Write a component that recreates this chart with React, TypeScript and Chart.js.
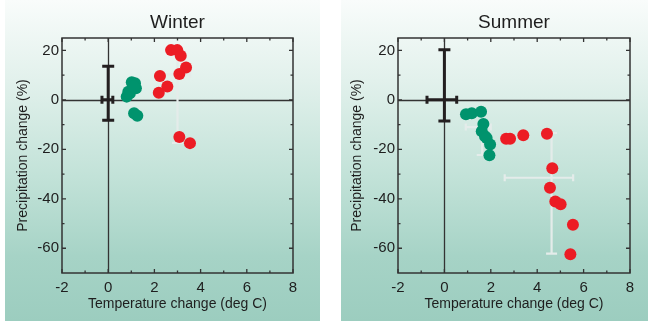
import React, { useEffect, useRef } from "react";
import { Chart, registerables } from "chart.js";
Chart.register(...registerables);

// ---- tick values ----
const xMajorTicks = [-2, 0, 2, 4, 6, 8];
const xMinorTicks = [-1, 1, 3, 5, 7];
const yMajorTicks = [-60, -40, -20, 0, 20];
const yMinorTicks = [-50, -30, -10, 10];

// ---- Winter ----
const winterGreenTemp = [0.8, 0.87, 0.94, 1.02, 1.16, 1.2, 1.1, 1.12, 1.26];
const winterGreenPrecip = [1.3, 3.3, 2.7, 7.1, 6.7, 4.7, 5.5, -5.4, -6.4];
const winterRedTemp = [2.72, 2.99, 3.14, 3.37, 3.08, 2.24, 2.56, 2.19, 3.08, 3.54];
const winterRedPrecip = [20.1, 20.1, 17.8, 13.1, 10.4, 9.6, 5.4, 2.9, -15.0, -17.5];
// [x, y, xLow, xHigh, yLow, yHigh]
const winterControlBar = [0, 0, -0.27, 0.2, -8.3, 13.6];
const winterRedBar = [3.0, 10.3, 2.1, 3.55, -17.4, 19];

// ---- Summer ----
const summerGreenTemp = [0.93, 1.18, 1.58, 1.68, 1.61, 1.75, 1.82, 1.97, 1.94];
const summerGreenPrecip = [-5.8, -5.4, -4.8, -9.8, -12.7, -14.7, -15.4, -18.1, -22.4];
const summerRedTemp = [2.66, 2.83, 3.4, 4.42, 4.65, 4.55, 4.78, 5.01, 5.54, 5.43];
const summerRedPrecip = [-15.7, -15.7, -14.3, -13.7, -27.7, -35.5, -41.1, -42.2, -50.5, -62.4];
const summerControlBar = [0, 0, -0.75, 0.53, -8.6, 20.3];
const summerGreenBar = [1.63, -11, 0.92, 2.0, -22.3, -5];
const summerRedBar = [4.62, -31.5, 2.6, 5.55, -62.2, -13.4];

const FONT = "'Liberation Sans', Arial, Helvetica, sans-serif";
const GREEN = "#00936d";
const RED = "#ec1c24";
const AXIS = "#333333";

function pts(xs: number[], ys: number[]) {
  return xs.map((x, i) => ({ x, y: ys[i] }));
}

function drawBar(ctx: CanvasRenderingContext2D, xs: any, ys: any, b: number[], color: string, lw: number, capV: number, capH: number) {
  const [x, y, xl, xh, yl, yh] = b;
  const px = xs.getPixelForValue(x);
  const py = ys.getPixelForValue(y);
  const pxl = xs.getPixelForValue(xl);
  const pxh = xs.getPixelForValue(xh);
  const pyl = ys.getPixelForValue(yl);
  const pyh = ys.getPixelForValue(yh);
  ctx.save();
  ctx.strokeStyle = color;
  ctx.lineWidth = lw;
  ctx.lineCap = "butt";
  ctx.beginPath();
  ctx.moveTo(px, pyl); ctx.lineTo(px, pyh);
  ctx.moveTo(px - capV, pyl); ctx.lineTo(px + capV, pyl);
  ctx.moveTo(px - capV, pyh); ctx.lineTo(px + capV, pyh);
  ctx.moveTo(pxl, py); ctx.lineTo(pxh, py);
  ctx.moveTo(pxl, py - capH); ctx.lineTo(pxl, py + capH);
  ctx.moveTo(pxh, py - capH); ctx.lineTo(pxh, py + capH);
  ctx.stroke();
  ctx.restore();
}

function makePlugin(title: string, grayBars: number[][], controlBar: number[]) {
  return {
    id: "decor" + title,
    beforeDatasetsDraw(chart: any) {
      const { ctx, chartArea: ca, scales } = chart;
      const xs = scales.x, ys = scales.y;
      ctx.save();
      // zero lines
      ctx.strokeStyle = AXIS;
      ctx.lineWidth = 1.3;
      ctx.beginPath();
      const x0 = Math.round(xs.getPixelForValue(0)) + 0.5;
      const y0 = Math.round(ys.getPixelForValue(0)) + 0.5;
      ctx.moveTo(x0, ca.top); ctx.lineTo(x0, ca.bottom);
      ctx.moveTo(ca.left, y0); ctx.lineTo(ca.right, y0);
      ctx.stroke();
      // frame
      ctx.lineWidth = 1.5;
      ctx.strokeRect(ca.left, ca.top, ca.right - ca.left, ca.bottom - ca.top);
      // ticks
      ctx.lineWidth = 1.3;
      ctx.beginPath();
      const tick = (vals: number[], len: number) => {
        vals.forEach((v) => {
          const p = xs.getPixelForValue(v);
          ctx.moveTo(p, ca.bottom); ctx.lineTo(p, ca.bottom - len);
          ctx.moveTo(p, ca.top); ctx.lineTo(p, ca.top + len);
        });
      };
      const ticky = (vals: number[], len: number) => {
        vals.forEach((v) => {
          const p = ys.getPixelForValue(v);
          ctx.moveTo(ca.left, p); ctx.lineTo(ca.left + len, p);
          ctx.moveTo(ca.right, p); ctx.lineTo(ca.right - len, p);
        });
      };
      tick(xMajorTicks, 4);
      tick(xMinorTicks, 2.5);
      ticky(yMajorTicks, 4);
      ticky(yMinorTicks, 2.5);
      ctx.stroke();
      // title
      ctx.fillStyle = "#1e1e1e";
      ctx.font = `19px ${FONT}`;
      ctx.textAlign = "center";
      ctx.textBaseline = "middle";
      ctx.fillText(title, (ca.left + ca.right) / 2, 23);
      ctx.restore();
      grayBars.forEach((b) => drawBar(ctx, xs, ys, b, "#e4ecea", 2.2, 5.5, 3.5));
    },
    afterDatasetsDraw(chart: any) {
      const { ctx, scales } = chart;
      drawBar(ctx, scales.x, scales.y, controlBar, "#231f20", 3, 6, 4);
    },
  };
}

function Panel(props: {
  title: string; gT: number[]; gP: number[]; rT: number[]; rP: number[];
  grayBars: number[][]; controlBar: number[]; left: number; width: number; padRight: number; tickPad: number; titlePad: number;
}) {
  const ref = useRef<HTMLCanvasElement>(null);
  useEffect(() => {
    const chart = new Chart(ref.current!, {
      type: "scatter",
      data: {
        datasets: [
          { data: pts(props.gT, props.gP), backgroundColor: GREEN, borderWidth: 0, pointRadius: 6 },
          { data: pts(props.rT, props.rP), backgroundColor: RED, borderWidth: 0, pointRadius: 6 },
        ],
      },
      options: {
        animation: false,
        responsive: false,
        events: [],
        layout: { padding: { top: 38, right: props.padRight, bottom: 0, left: 0 } },
        plugins: { legend: { display: false }, tooltip: { enabled: false }, title: { display: false } },
        scales: {
          x: {
            type: "linear",
            min: -2, max: 8,
            grid: { display: false, drawTicks: false },
            border: { display: false },
            afterBuildTicks: (s: any) => { s.ticks = xMajorTicks.map((v) => ({ value: v })); },
            afterFit: (s: any) => { s.height = 48; },
            ticks: { padding: 6, color: "#1e1e1e", font: { family: FONT, size: 15 }, maxRotation: 0, autoSkip: false },
            title: { display: true, text: "Temperature change (deg C)", color: "#1e1e1e", font: { family: FONT, size: 14 }, padding: { top: 0, bottom: 8 } },
          },
          y: {
            type: "linear",
            min: -70, max: 25,
            grid: { display: false, drawTicks: false },
            border: { display: false },
            afterBuildTicks: (s: any) => { s.ticks = yMajorTicks.map((v) => ({ value: v })); },
            afterFit: (s: any) => { s.width = 57; },
            ticks: { padding: props.tickPad, color: "#1e1e1e", font: { family: FONT, size: 15 }, autoSkip: false },
            title: { display: true, text: "Precipitation change (%)", color: "#1e1e1e", font: { family: FONT, size: 14 }, padding: { top: props.titlePad, bottom: 0 } },
          },
        },
      } as any,
      plugins: [makePlugin(props.title, props.grayBars, props.controlBar)],
    });
    return () => chart.destroy();
  }, []);
  return (
    <div
      style={{
        position: "absolute",
        left: props.left,
        top: 0,
        width: props.width,
        height: 321,
        background: "linear-gradient(to bottom, #f9fcfb 0%, #e2f1ec 25%, #c2e2d8 55%, #a6d3c6 80%, #9ccdbf 100%)",
      }}
    >
      <canvas ref={ref} width={props.width} height={321} style={{ display: "block" }} />
    </div>
  );
}

export default function App() {
  return (
    <div style={{ position: "fixed", left: 0, top: 0, width: 648, height: 321, background: "#ffffff", overflow: "hidden" }}>
      <Panel title="Winter" gT={winterGreenTemp} gP={winterGreenPrecip} rT={winterRedTemp} rP={winterRedPrecip}
        grayBars={[winterRedBar]} controlBar={winterControlBar} left={5} width={315} padRight={27} tickPad={3} titlePad={10} />
      <Panel title="Summer" gT={summerGreenTemp} gP={summerGreenPrecip} rT={summerRedTemp} rP={summerRedPrecip}
        grayBars={[summerGreenBar, summerRedBar]} controlBar={summerControlBar} left={341} width={307} padRight={18} tickPad={3} titlePad={8} />
    </div>
  );
}
